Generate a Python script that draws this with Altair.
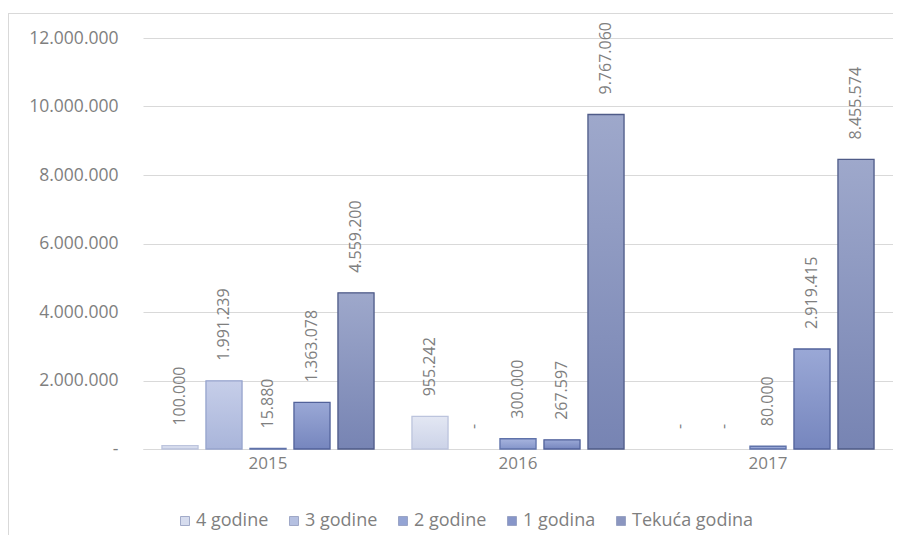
import altair as alt
import pandas as pd

years = ["2015", "2016", "2017"]
series = ["4 godine", "3 godine", "2 godine", "1 godina", "Tekuća godina"]
v_4god = [100000, 955242, 0]
v_3god = [1991239, 0, 0]
v_2god = [15880, 300000, 80000]
v_1god = [1363078, 267597, 2919415]
v_tek = [4559200, 9767060, 8455574]
y_ticks = [0, 2000000, 4000000, 6000000, 8000000, 10000000, 12000000]

fills = ["#d6dcee", "#b5c0e1", "#94a4d4", "#8796c9", "#8b96c0"]
grad_top = ["#e3e7f3", "#c6cee9", "#a7b4de", "#9aa8d6", "#9ea8cb"]
grad_bot = ["#ccd3e8", "#a9b5da", "#8495ca", "#7686be", "#7784b3"]
strokes = ["#bcc4dd", "#97a4cd", "#5f72aa", "#52629a", "#4f5b88"]

rows = []
for s, vals in zip(series, [v_4god, v_3god, v_2god, v_1god, v_tek]):
    for yr, v in zip(years, vals):
        rows.append({"year": yr, "series": s, "value": v})
df = pd.DataFrame(rows)

fmt = "datum.value == 0 ? '-' : replace(format(datum.value, ',.0f'), regexp(',', 'g'), '.')"

yenc = alt.Y("value:Q", title=None,
             scale=alt.Scale(domain=[0, 12000000], nice=False),
             axis=alt.Axis(values=y_ticks, labelExpr=fmt, ticks=False, tickSize=0,
                           domain=False, labelPadding=25, labelFontSize=17.5,
                           labelColor="#7f7f7f", labelFont="Open Sans",
                           gridColor="#d9d9d9", gridWidth=1))

base = alt.Chart(df).encode(
    x=alt.X("year:N", sort=years, title=None,
            scale=alt.Scale(domain=years, paddingInner=0.12, paddingOuter=0.06),
            axis=alt.Axis(labelAngle=0, ticks=False, tickSize=0, labelPadding=6,
                          labelFontSize=17, labelColor="#7f7f7f", labelFont="Open Sans",
                          domainColor="#d9d9d9", domainWidth=1)),
    xOffset=alt.XOffset("series:N", sort=series,
                        scale=alt.Scale(domain=series, paddingInner=0.18, paddingOuter=0.09)),
)

bars = base.transform_filter("datum.value > 0").mark_bar(strokeWidth=0).encode(
    y=yenc,
    color=alt.Color("series:N", sort=series, title=None,
                    scale=alt.Scale(domain=series, range=fills),
                    legend=alt.Legend(orient="none", direction="horizontal",
                                      legendX=33, legendY=474,
                                      symbolType="square", symbolSize=81,
                                      symbolStrokeColor="#8f99bd", symbolStrokeWidth=0.8,
                                      labelFontSize=18, labelColor="#7f7f7f",
                                      labelFont="Open Sans", labelOffset=2,
                                      columnPadding=16)),
)

grad_layers = []
for i, s in enumerate(series):
    g = alt.Gradient(
        gradient="linear",
        stops=[alt.GradientStop(color=grad_top[i], offset=0),
               alt.GradientStop(color=grad_bot[i], offset=1)],
        x1=0, x2=0, y1=0, y2=1,
    )
    layer = base.transform_filter(
        f"datum.series == '{s}' && datum.value > 0"
    ).mark_bar(fill=g, stroke=strokes[i], strokeWidth=1.3).encode(y=alt.Y("value:Q"))
    grad_layers.append(layer)

labels = base.transform_calculate(
    label=fmt
).mark_text(angle=270, align="left", baseline="middle", dx=20,
            fontSize=16, font="Open Sans", color="#7f7f7f").encode(
    y=alt.Y("value:Q"),
    text="label:N",
)

frame_left = alt.Chart(alt.Data(values=[{}])).mark_rule(
    stroke="#d9d9d9", strokeWidth=1
).encode(x=alt.value(-134.5), y=alt.value(-25), y2=alt.value(600))

frame_top = alt.Chart(alt.Data(values=[{}])).mark_rule(
    stroke="#d9d9d9", strokeWidth=1
).encode(y=alt.value(-24.5), x=alt.value(-135), x2=alt.value(800))

chart = alt.layer(frame_left, frame_top, bars, *grad_layers, labels).properties(
    width=750, height=411,
    autosize=alt.AutoSizeParams(type="none"),
    padding={"left": 135, "top": 30, "right": 0, "bottom": 86},
).configure(font="Open Sans", view=alt.ViewConfig(stroke=None))

chart.save("out.html", embed_options={"renderer": "svg", "actions": False})
